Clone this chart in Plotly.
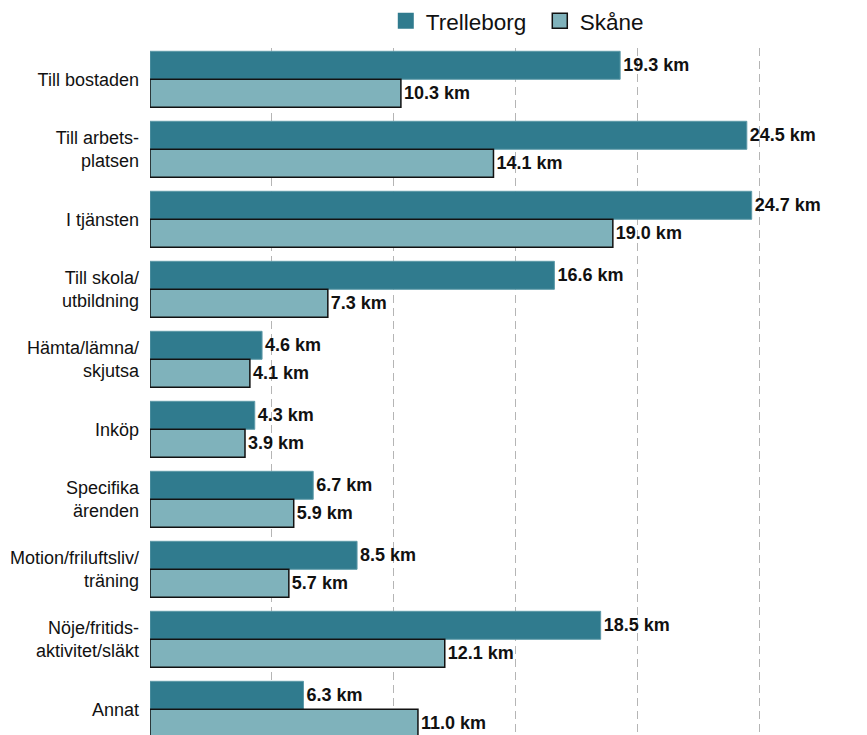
import plotly.graph_objects as go

categories = ["Till bostaden", "Till arbets-<br>platsen", "I tjänsten", "Till skola/<br>utbildning",
              "Hämta/lämna/<br>skjutsa", "Inköp", "Specifika<br>ärenden", "Motion/friluftsliv/<br>träning",
              "Nöje/fritids-<br>aktivitet/släkt", "Annat"]
trelleborg = [19.3, 24.5, 24.7, 16.6, 4.6, 4.3, 6.7, 8.5, 18.5, 6.3]
skane = [10.3, 14.1, 19.0, 7.3, 4.1, 3.9, 5.9, 5.7, 12.1, 11.0]
series_names = ["Trelleborg", "Skåne"]

C_T = "#307B8E"
C_S = "#7FB2BB"
FONT = "Liberation Sans, Arial, sans-serif"

fig = go.Figure()
fig.add_trace(go.Bar(
    y=categories, x=trelleborg, orientation="h", name=series_names[0],
    marker=dict(color=C_T, line=dict(color="#5E9AA8", width=1)),
    text=[f"<b>{v:.1f} km</b>" for v in trelleborg], textposition="outside",
    textfont=dict(size=18, color="#111111", family=FONT), cliponaxis=False,
    showlegend=False, hoverinfo="skip"))
fig.add_trace(go.Bar(
    y=categories, x=skane, orientation="h", name=series_names[1],
    marker=dict(color=C_S, line=dict(color="#111111", width=1.5)),
    text=[f"<b>{v:.1f} km</b>" for v in skane], textposition="outside",
    textfont=dict(size=18, color="#111111", family=FONT), cliponaxis=False,
    showlegend=False, hoverinfo="skip"))

# legend proxies
fig.add_trace(go.Scatter(x=[None], y=[None], mode="markers", name=series_names[0],
                         marker=dict(symbol="square", size=17, color=C_T, line=dict(width=0))))
fig.add_trace(go.Scatter(x=[None], y=[None], mode="markers", name=series_names[1],
                         marker=dict(symbol="square", size=15, color=C_S, line=dict(color="#111111", width=1.5))))

fig.update_layout(
    width=859, height=727,
    margin=dict(l=142, r=0, t=40, b=0, autoexpand=False),
    paper_bgcolor="white", plot_bgcolor="white",
    barmode="group", bargap=0.2, bargroupgap=0,
    font=dict(family=FONT, size=18, color="#111111"),
    legend=dict(orientation="h", x=0.4398, xanchor="left", y=1.039, yanchor="middle",
                xref="container", yref="paper",
                font=dict(size=22.5, family=FONT, color="#111111"),
                entrywidth=109, entrywidthmode="pixels",
                itemsizing="trace", traceorder="normal", tracegroupgap=0),
    uniformtext=dict(minsize=18, mode="show"),
)
fig.update_xaxes(range=[0, 717 / 24.36], tickvals=[0, 5, 10, 15, 20, 25], showticklabels=False,
                 showgrid=True, gridcolor="#B5B5B5", gridwidth=1, griddash="8px,5px",
                 zeroline=False, showline=False, ticks="", automargin=False)
fig.update_yaxes(range=[9.367, -0.447], showgrid=False, zeroline=False, showline=False, automargin=False,
                 ticks="", ticklabelstandoff=10, tickfont=dict(size=18, family=FONT, color="#111111"))

fig.write_html("out.html")
